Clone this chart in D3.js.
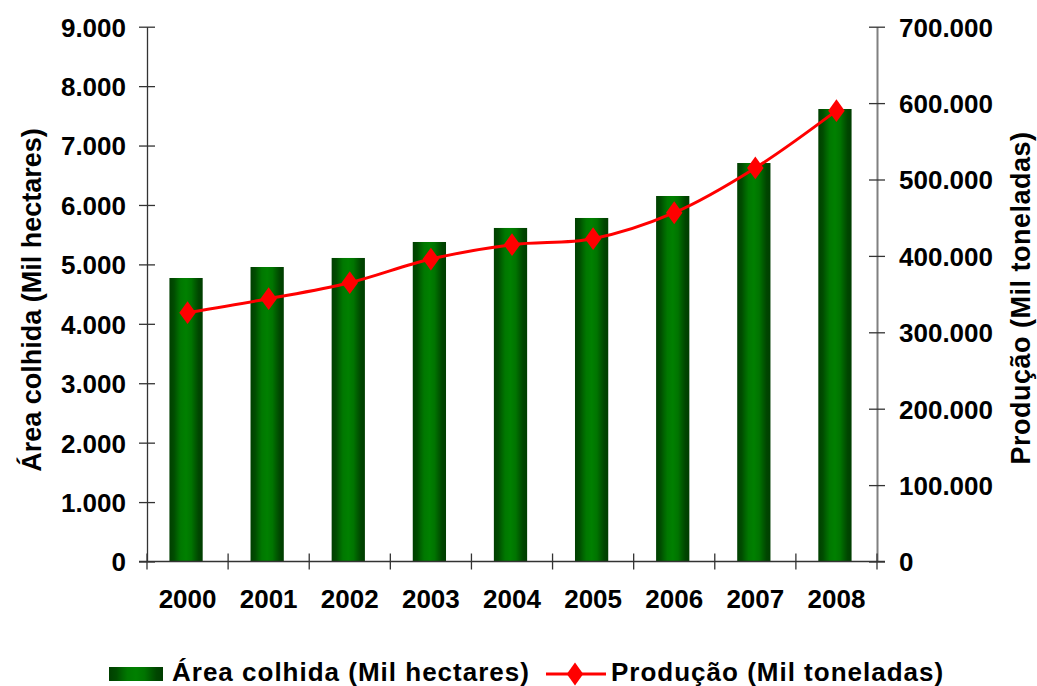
<!DOCTYPE html>
<html>
<head>
<meta charset="utf-8">
<script src="https://cdn.jsdelivr.net/npm/d3@7"></script>
<style>
  body { margin: 0; background: #fff; }
  text { font-family: "Liberation Sans", Arial, sans-serif; font-weight: bold; fill: #000; }
</style>
</head>
<body>
<div id="chart"></div>
<script>
// Data
const years = ["2000", "2001", "2002", "2003", "2004", "2005", "2006", "2007", "2008"];
const areaValues = [4771, 4956, 5108, 5377, 5613, 5781, 6151, 6706, 7615];
const prodValues = [325700, 344000, 364900, 395900, 414700, 422500, 456500, 515100, 590100];
const areaTicks = [0, 1000, 2000, 3000, 4000, 5000, 6000, 7000, 8000, 9000];
const prodTicks = [0, 100000, 200000, 300000, 400000, 500000, 600000, 700000];

const width = 1037;
const height = 686;
const margin = {top: 26.7, right: 160, bottom: 124.5, left: 147};
const plotW = width - margin.left - margin.right;
const plotH = height - margin.top - margin.bottom;

const ptBR = d3.formatLocale({decimal: ",", thousands: ".", grouping: [3], currency: ["", ""]});
const fmt = ptBR.format(",");

const svg = d3.select("#chart")
  .append("svg")
  .attr("width", width)
  .attr("height", height);

// Bar gradient (cylinder look)
const defs = svg.append("defs");
const grad = defs.append("linearGradient")
  .attr("id", "barGrad")
  .attr("x1", "0%").attr("x2", "100%").attr("y1", "0%").attr("y2", "0%");
[
  [0, "#003f00"], [0.14, "#004d00"], [0.24, "#006400"], [0.34, "#007800"],
  [0.5, "#008000"], [0.66, "#007400"], [0.78, "#005a00"], [0.88, "#004600"], [1, "#003d00"],
].forEach(function(s) {
  grad.append("stop").attr("offset", s[0]).attr("stop-color", s[1]);
});

const g = svg.append("g")
  .attr("transform", "translate(" + margin.left + "," + margin.top + ")");

// Scales
const x = d3.scaleBand().domain(years).range([0, plotW]);
const yLeft = d3.scaleLinear().domain([0, 9000]).range([plotH, 0]);
const yRight = d3.scaleLinear().domain([0, 700000]).range([plotH, 0]);

// Bars
const barW = x.bandwidth() * 0.41;
g.selectAll("rect.bar")
  .data(areaValues)
  .enter()
  .append("rect")
  .attr("class", "bar")
  .attr("x", function(d, i) {
    return x(years[i]) + x.bandwidth() / 2 - barW / 2 - 1.5;
  })
  .attr("y", function(d) {
    return yLeft(d);
  })
  .attr("width", barW)
  .attr("height", function(d) {
    return plotH - yLeft(d);
  })
  .style("fill", "url(#barGrad)");

// Left axis
const leftAxis = g.append("g")
  .call(d3.axisLeft(yLeft).tickValues(areaTicks).tickFormat(fmt).tickSizeInner(-8).tickSizeOuter(0).tickPadding(21));
leftAxis.select(".domain").attr("stroke", "#333").attr("stroke-width", 1.3);
leftAxis.selectAll(".tick line").attr("x1", -8).attr("x2", 8).attr("stroke", "#333").attr("stroke-width", 1.3);
leftAxis.selectAll(".tick text").style("font-size", "26px").attr("dy", "0.36em");

// Right axis
const rightAxis = g.append("g")
  .attr("transform", "translate(" + plotW + ",0)")
  .call(d3.axisRight(yRight).tickValues(prodTicks).tickFormat(fmt).tickSizeInner(8).tickSizeOuter(0).tickPadding(14));
rightAxis.select(".domain").attr("stroke", "#808080").attr("stroke-width", 2);
rightAxis.selectAll(".tick line").attr("x1", -8).attr("x2", 8).attr("stroke", "#333").attr("stroke-width", 1.3);
rightAxis.selectAll(".tick text").style("font-size", "26px").attr("dy", "0.36em").attr("x", 22);

// Bottom axis (ticks on band edges)
const xEdge = d3.scaleLinear().domain([0, years.length]).range([0, plotW]);
const bottom = g.append("g").attr("transform", "translate(0," + plotH + ")");
bottom.append("line")
  .attr("x1", -8).attr("x2", plotW + 8)
  .attr("stroke", "#333").attr("stroke-width", 1.3);
bottom.selectAll("line.edge")
  .data(d3.range(years.length + 1))
  .enter()
  .append("line")
  .attr("class", "edge")
  .attr("x1", function(d) { return xEdge(d); })
  .attr("x2", function(d) { return xEdge(d); })
  .attr("y1", -8).attr("y2", 8)
  .attr("stroke", "#333").attr("stroke-width", 1.3);
bottom.selectAll("text.year")
  .data(years)
  .enter()
  .append("text")
  .attr("class", "year")
  .attr("x", function(d) { return x(d) + x.bandwidth() / 2; })
  .attr("y", 46.5)
  .attr("text-anchor", "middle")
  .style("font-size", "26px")
  .text(function(d) { return d; });

// Production line
const line = d3.line()
  .x(function(d, i) { return x(years[i]) + x.bandwidth() / 2; })
  .y(function(d) { return yRight(d); })
  .curve(d3.curveCatmullRom.alpha(0.5));

g.append("path")
  .datum(prodValues)
  .attr("d", line)
  .attr("fill", "none")
  .attr("stroke", "#ff0000")
  .attr("stroke-width", 3);

const diamond = d3.symbol().type(d3.symbolDiamond).size(150);
g.selectAll("path.marker")
  .data(prodValues)
  .enter()
  .append("path")
  .attr("class", "marker")
  .attr("d", diamond)
  .attr("transform", function(d, i) {
    return "translate(" + (x(years[i]) + x.bandwidth() / 2) + "," + yRight(d) + ") scale(1.25,1)";
  })
  .attr("fill", "#ff0000");

// Axis titles
svg.append("text")
  .attr("transform", "translate(41,300) rotate(-90)")
  .attr("text-anchor", "middle")
  .style("font-size", "27px")
  .text("Área colhida (Mil hectares)");

svg.append("text")
  .attr("transform", "translate(1030,298) rotate(-90)")
  .attr("text-anchor", "middle")
  .style("font-size", "27px")
  .style("letter-spacing", "0.5px")
  .text("Produção (Mil toneladas)");

// Legend
const legend = svg.append("g");
legend.append("rect")
  .attr("x", 109).attr("y", 667)
  .attr("width", 54).attr("height", 14)
  .style("fill", "url(#barGrad)");
legend.append("text")
  .attr("x", 172).attr("y", 681)
  .style("font-size", "26px")
  .style("letter-spacing", "1px")
  .text("Área colhida (Mil hectares)");
legend.append("line")
  .attr("x1", 546).attr("x2", 606)
  .attr("y1", 674).attr("y2", 674)
  .attr("stroke", "#ff0000").attr("stroke-width", 3);
legend.append("path")
  .attr("d", diamond)
  .attr("transform", "translate(575,674) scale(1.25,1)")
  .attr("fill", "#ff0000");
legend.append("text")
  .attr("x", 611).attr("y", 681)
  .style("font-size", "26px")
  .style("letter-spacing", "1px")
  .text("Produção (Mil toneladas)");
</script>
</body>
</html>
